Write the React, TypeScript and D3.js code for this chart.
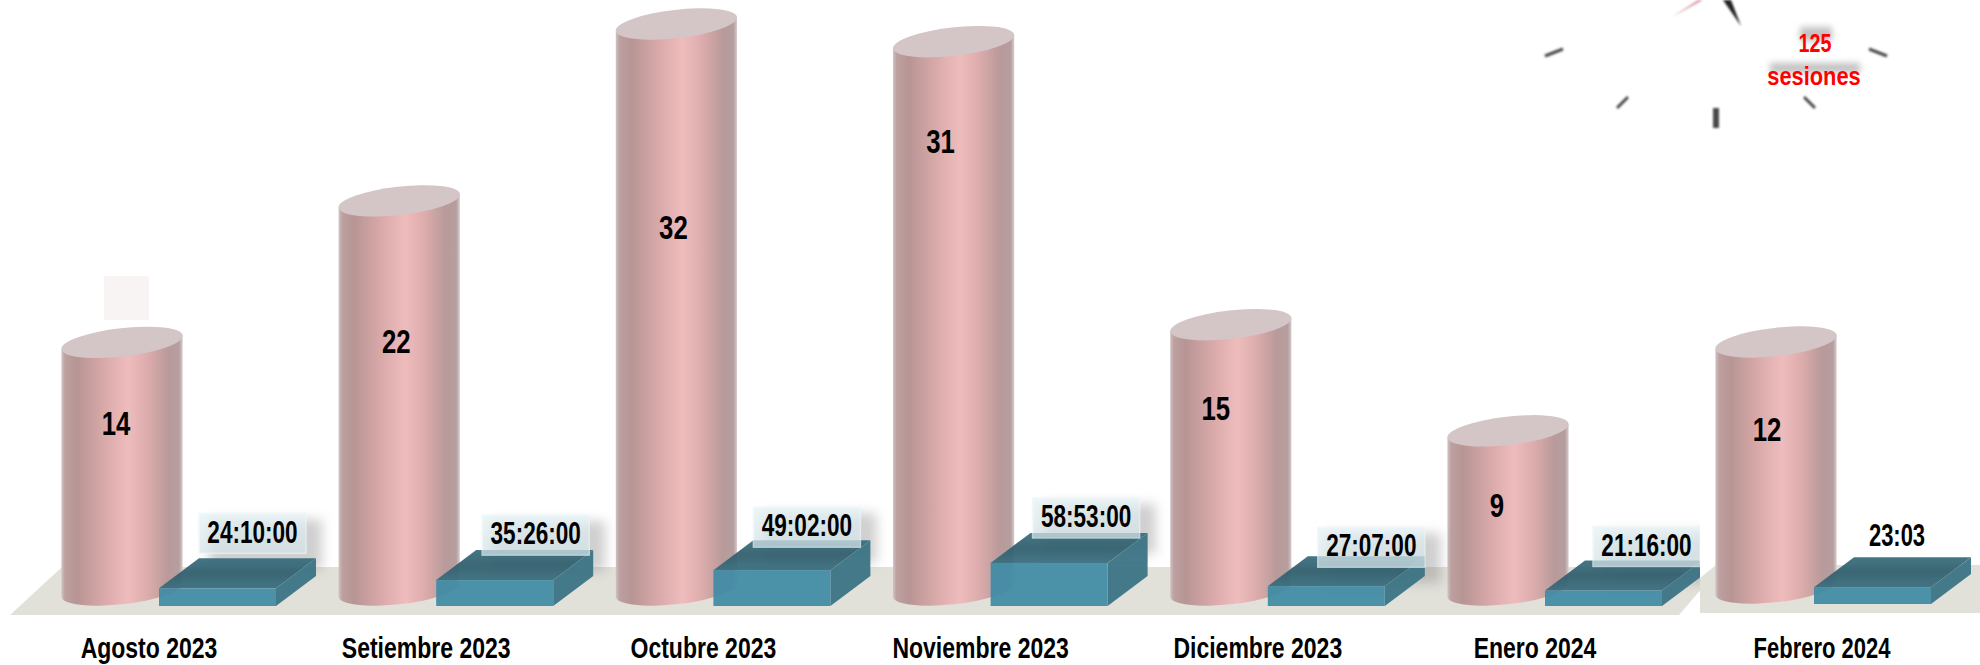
import React from "react";
import * as d3 from "d3";

const months = ["Agosto 2023", "Setiembre 2023", "Octubre 2023", "Noviembre 2023", "Diciembre 2023", "Enero 2024", "Febrero 2024"];
const sessions = [14, 22, 32, 31, 15, 9, 12];
const durationLabels = ["24:10:00", "35:26:00", "49:02:00", "58:53:00", "27:07:00", "21:16:00", "23:03"];
const durationHours = [24.17, 35.43, 49.03, 58.88, 27.12, 21.27, 23.05];
const totalLabel = ["125", "sesiones"];

// hand placement of the annotations
const sessionLabelNudge: [number, number][] = [[-6, 81], [-3, 140], [-3, 203], [-13, 100], [-15, 84], [-11, 74], [-9, 87]];
const durationBoxNudge: [number, number][] = [[0, -5], [6, 5], [0, 7], [2, 5], [10, 11], [8, 6], [0, 0]];

const W = 1980, H = 665;
const FONT = "'Liberation Sans', Arial, sans-serif";
const A = 61, B = 14.2, TILT = -6.5;
const rad = (TILT * Math.PI) / 180;
const ax = A * Math.cos(rad), ay = A * Math.sin(rad);

const first6 = months.slice(0, 6);
const xMain = d3.scalePoint<string>().domain(first6).range([61, 61 + 277.2 * 5]);
const xLeft = (i: number) => (i < 6 ? (xMain(months[i]) as number) : 1715);
const yMain = d3.scaleLinear().domain([0, 32]).range([590, 24]);
const yFeb = d3.scaleLinear().domain([0, 12]).range([588, 342]);
const yCyl = (i: number) => (i < 6 ? yMain(sessions[i]) : yFeb(sessions[i]));
const baseCyl = (i: number) => (i < 6 ? yMain(0) : yFeb(0));
const boxH = d3.scaleLinear().domain([0, 60]).range([0, 43.9]);
const line = d3.line();
const boxBottom = (i: number) => (i < 6 ? 606 : 604);
const boxLeft = (i: number) => (i < 6 ? xLeft(i) + 98 : 1814);

function cylinderPath(cx: number, top: number, base: number) {
  const p = d3.path();
  p.moveTo(cx - ax, base - ay);
  p.lineTo(cx - ax, top - ay);
  p.lineTo(cx + ax, top + ay);
  p.lineTo(cx + ax, base + ay);
  return `${p.toString()}A${A},${B} ${TILT} 0 1 ${cx - ax},${base - ay}Z`;
}

function Stretch({ x, y, sx, size, fill = "#000", weight = 700, children }: any) {
  return (
    <text transform={`translate(${x},${y}) scale(${sx},1)`} fontFamily={FONT} fontSize={size} fontWeight={weight} fill={fill} textAnchor="middle" dominantBaseline="central">
      {children}
    </text>
  );
}

function Cylinder({ i }: { i: number }) {
  const cx = xLeft(i) + 61;
  const top = yCyl(i), base = baseCyl(i);
  return (
    <g>
      <path d={cylinderPath(cx, top, base)} fill="url(#cyl)" />
      <ellipse cx={cx} cy={top} rx={A} ry={B} transform={`rotate(${TILT} ${cx} ${top})`} fill="#d4c5c7" />
    </g>
  );
}

function Box({ i }: { i: number }) {
  const x0 = boxLeft(i);
  const w = 117, dx = 40, dy = 30;
  const bottom = boxBottom(i);
  const h = boxH(durationHours[i]);
  const top = bottom - h;
  const poly = (pts: [number, number][]) => (line(pts) as string) + "Z";
  return (
    <g opacity={0.95}>
      <path d={poly([[x0, top], [x0 + dx, top - dy], [x0 + w + dx, top - dy], [x0 + w, top]])} fill="url(#boxTop)" />
      <path d={poly([[x0 + w, top], [x0 + w + dx, top - dy], [x0 + w + dx, bottom - dy], [x0 + w, bottom]])} fill="#3c7486" />
      <rect x={x0} y={top} width={w} height={h} fill="#438da6" />
    </g>
  );
}

const labelPos = (i: number) => {
  const [nx, ny] = durationBoxNudge[i];
  return { lx: boxLeft(i) + 40 + nx, ly: boxBottom(i) - boxH(durationHours[i]) - 30 + ny - 40 };
};

const clockTicks: [number, number, number, number, number][] = [
  [1545, 56, 1563, 49, 3],
  [1617, 108, 1628, 97, 3],
  [1716, 108, 1716, 128, 6],
  [1804, 97, 1815, 108, 3],
  [1869, 49, 1887, 56, 3],
];

export default function App() {
  const floor = line([[10, 615], [62, 567], [1720, 567], [1679, 615]]) + "Z";
  const floorFeb = line([[1700, 578], [1716, 565], [1980, 565], [1980, 613], [1700, 613]]) + "Z";
  const main = months.slice(0, 6);
  return (
    <svg width={W} height={H} viewBox={`0 0 ${W} ${H}`} style={{ position: "absolute", left: 0, top: 0, display: "block", background: "#fff" }}>
      <defs>
        <linearGradient id="cyl" x1="0" x2="1" y1="0" y2="0">
          <stop offset="0" stopColor="#d2c3c3" />
          <stop offset="0.03" stopColor="#bda0a0" />
          <stop offset="0.13" stopColor="#b79594" />
          <stop offset="0.35" stopColor="#d9a9a9" />
          <stop offset="0.55" stopColor="#efbcbc" />
          <stop offset="0.72" stopColor="#dbabab" />
          <stop offset="0.88" stopColor="#b99a9a" />
          <stop offset="0.97" stopColor="#b59e9f" />
          <stop offset="1" stopColor="#d8caca" />
        </linearGradient>
        <linearGradient id="boxTop" x1="0" x2="0" y1="0" y2="1">
          <stop offset="0" stopColor="#3a6f7f" />
          <stop offset="0.5" stopColor="#33606e" />
          <stop offset="1" stopColor="#3b6f80" />
        </linearGradient>
        <linearGradient id="lab" x1="0" x2="0" y1="0" y2="1">
          <stop offset="0" stopColor="#e6f3f6" />
          <stop offset="1" stopColor="#d6e5ea" />
        </linearGradient>
        <filter id="blur8" x="-30%" y="-30%" width="160%" height="160%"><feGaussianBlur stdDeviation="6" /></filter>
        <filter id="blur2" x="-30%" y="-60%" width="160%" height="220%"><feGaussianBlur stdDeviation="3" /></filter>
        <filter id="blur1" x="-30%" y="-30%" width="160%" height="160%"><feGaussianBlur stdDeviation="0.8" /></filter>
      </defs>

      <rect x={104} y={276} width={45} height={44} fill="#f9f4f4" />
      <path d={floor} fill="#e1e0d9" />
      {main.map((_, i) => <Cylinder key={i} i={i} />)}
      {main.map((_, i) => {
        const { lx, ly } = labelPos(i);
        return <rect key={i} x={lx + 10} y={ly + 6} width={113} height={50} fill="#777" opacity={0.35} filter="url(#blur8)" />;
      })}
      {main.map((_, i) => <Box key={i} i={i} />)}
      {main.map((_, i) => {
        const { lx, ly } = labelPos(i);
        return (
          <g key={i}>
            <rect x={lx} y={ly} width={107} height={40} fill="url(#lab)" stroke="#eef6f8" strokeWidth={1.5} opacity={0.72} />
            <Stretch x={lx + 53.5} y={ly + 19} sx={0.74} size={30.5}>{durationLabels[i]}</Stretch>
          </g>
        );
      })}

      <rect x={1700} y={500} width={280} height={165} fill="#fff" />
      <path d={floorFeb} fill="#e1e0d9" />
      <Cylinder i={6} />
      <Box i={6} />
      <Stretch x={1897} y={536} sx={0.72} size={30.5}>{durationLabels[6]}</Stretch>

      {sessions.map((v, i) => (
        <Stretch key={i} x={xLeft(i) + 61 + sessionLabelNudge[i][0]} y={yCyl(i) + sessionLabelNudge[i][1]} sx={0.78} size={33}>{v}</Stretch>
      ))}
      {months.map((m, i) => (
        <Stretch key={m} x={i < 6 ? xLeft(i) + 88 : 1822} y={i < 6 ? 648 : 648} sx={i < 6 ? 0.78 : 0.745} size={29.5}>{m}</Stretch>
      ))}

      <g filter="url(#blur1)">
        {clockTicks.map((t, i) => (
          <line key={i} x1={t[0]} y1={t[1]} x2={t[2]} y2={t[3]} stroke="#4a4a4a" strokeWidth={t[4]} />
        ))}
        <path d={line([[1703, 0], [1672, 17], [1698, 0]]) + "Z"} fill="#d89a9f" />
        <path d={line([[1723, 0], [1741, 26], [1731, 0]]) + "Z"} fill="#222" />
      </g>
      <g filter="url(#blur2)" opacity={0.4} fill="#666">
        <rect x={1800} y={27} width={32} height={14} />
        <rect x={1770} y={63} width={90} height={10} />
      </g>
      <Stretch x={1815} y={43} sx={0.76} size={26} fill="#ff0000">{totalLabel[0]}</Stretch>
      <Stretch x={1814} y={76} sx={0.84} size={26} fill="#ff0000">{totalLabel[1]}</Stretch>
    </svg>
  );
}
